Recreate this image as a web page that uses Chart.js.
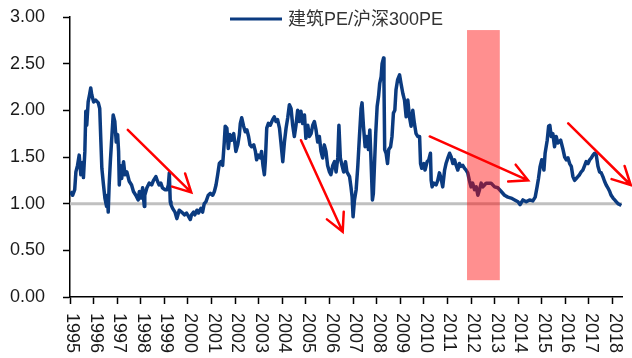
<!DOCTYPE html>
<html>
<head>
<meta charset="utf-8">
<script src="https://cdn.jsdelivr.net/npm/chart.js@4.4.1/dist/chart.umd.min.js"></script>
<style>
  html, body { margin: 0; padding: 0; background: #fff; }
  #wrap { width: 632px; height: 358px; }
</style>
</head>
<body>
<div id="wrap"><canvas id="peChart"></canvas></div>
<script>
// 建筑PE / 沪深300PE, weekly, decimal year on x
const years = [
  1995.01, 1995.11, 1995.20, 1995.25, 1995.32, 1995.39, 1995.46, 1995.53, 1995.57, 1995.63,
  1995.67, 1995.71, 1995.77, 1995.83, 1995.88, 1995.92, 1996.00, 1996.09, 1996.20, 1996.26,
  1996.31, 1996.35, 1996.42, 1996.48, 1996.55, 1996.59, 1996.62, 1996.66, 1996.71, 1996.76,
  1996.83, 1996.90, 1996.96, 1997.02, 1997.06, 1997.09, 1997.13, 1997.19, 1997.27, 1997.33,
  1997.41, 1997.51, 1997.61, 1997.69, 1997.79, 1997.89, 1997.94, 1998.00, 1998.08, 1998.15,
  1998.17, 1998.26, 1998.36, 1998.46, 1998.54, 1998.64, 1998.71, 1998.78, 1998.85, 1998.92,
  1999.02, 1999.11, 1999.17, 1999.21, 1999.25, 1999.28, 1999.35, 1999.45, 1999.53, 1999.63,
  1999.73, 1999.85, 1999.94, 2000.03, 2000.10, 2000.15, 2000.24, 2000.29, 2000.38, 2000.45,
  2000.55, 2000.62, 2000.69, 2000.76, 2000.86, 2000.95, 2001.05, 2001.12, 2001.19, 2001.26,
  2001.33, 2001.40, 2001.47, 2001.54, 2001.58, 2001.65, 2001.71, 2001.78, 2001.85, 2001.94,
  2002.03, 2002.11, 2002.18, 2002.22, 2002.28, 2002.36, 2002.43, 2002.50, 2002.57, 2002.63,
  2002.70, 2002.79, 2002.86, 2002.91, 2002.98, 2003.07, 2003.12, 2003.18, 2003.24, 2003.28,
  2003.34, 2003.41, 2003.49, 2003.59, 2003.66, 2003.73, 2003.80, 2003.88, 2003.94, 2004.02,
  2004.09, 2004.16, 2004.23, 2004.30, 2004.37, 2004.44, 2004.51, 2004.58, 2004.65, 2004.72,
  2004.79, 2004.86, 2004.94, 2005.00, 2005.08, 2005.15, 2005.22, 2005.29, 2005.36, 2005.43,
  2005.50, 2005.57, 2005.64, 2005.71, 2005.78, 2005.85, 2005.92, 2006.00, 2006.06, 2006.14,
  2006.21, 2006.28, 2006.35, 2006.40, 2006.46, 2006.53, 2006.60, 2006.68, 2006.74, 2006.85,
  2006.91, 2006.96, 2007.00, 2007.06, 2007.13, 2007.20, 2007.27, 2007.34, 2007.38, 2007.44,
  2007.51, 2007.58, 2007.65, 2007.71, 2007.76, 2007.82, 2007.86, 2007.91, 2007.96, 2008.02,
  2008.08, 2008.13, 2008.19, 2008.23, 2008.29, 2008.31, 2008.34, 2008.40, 2008.46, 2008.51,
  2008.59, 2008.65, 2008.71, 2008.77, 2008.82, 2008.89, 2008.97, 2009.03, 2009.11, 2009.18,
  2009.25, 2009.32, 2009.39, 2009.46, 2009.53, 2009.60, 2009.67, 2009.74, 2009.82, 2009.86,
  2009.91, 2010.00, 2010.05, 2010.14, 2010.21, 2010.28, 2010.31, 2010.35, 2010.42, 2010.52,
  2010.59, 2010.66, 2010.73, 2010.80, 2010.88, 2010.94, 2011.02, 2011.09, 2011.16, 2011.23,
  2011.30, 2011.37, 2011.44, 2011.51, 2011.58, 2011.65, 2011.72, 2011.79, 2011.86, 2011.93,
  2012.00, 2012.07, 2012.15, 2012.22, 2012.29, 2012.36, 2012.43, 2012.50, 2012.57, 2012.64,
  2012.74, 2012.85, 2013.00, 2013.14, 2013.28, 2013.42, 2013.56, 2013.70, 2013.85, 2013.99,
  2014.08, 2014.20, 2014.34, 2014.48, 2014.62, 2014.72, 2014.80, 2014.86, 2014.93, 2015.00,
  2015.09, 2015.14, 2015.23, 2015.29, 2015.34, 2015.40, 2015.47, 2015.54, 2015.61, 2015.68,
  2015.80, 2015.90, 2015.97, 2016.04, 2016.11, 2016.18, 2016.25, 2016.32, 2016.39, 2016.46,
  2016.53, 2016.60, 2016.67, 2016.74, 2016.82, 2016.88, 2016.96, 2017.03, 2017.10, 2017.17,
  2017.24, 2017.31, 2017.38, 2017.45, 2017.52, 2017.59, 2017.66, 2017.73, 2017.80, 2017.88,
  2017.94, 2018.02, 2018.09, 2018.16, 2018.23, 2018.30, 2018.37
];

const ratio = [
  1.13, 1.09, 1.15, 1.34, 1.41, 1.52, 1.31, 1.44, 1.28, 1.56,
  1.99, 1.84, 2.09, 2.17, 2.24, 2.17, 2.09, 2.11, 2.08, 2.02,
  1.66, 1.38, 1.20, 1.06, 0.97, 1.09, 0.91, 1.20, 1.45, 1.66,
  1.95, 1.88, 1.66, 1.74, 1.56, 1.20, 1.41, 1.27, 1.45, 1.31,
  1.34, 1.24, 1.20, 1.13, 1.09, 1.04, 1.13, 1.06, 1.17, 0.97,
  1.09, 1.17, 1.22, 1.20, 1.25, 1.29, 1.24, 1.20, 1.22, 1.17,
  1.15, 1.15, 1.20, 1.33, 1.02, 0.99, 0.95, 0.91, 0.84, 0.93,
  0.91, 0.88, 0.90, 0.86, 0.83, 0.88, 0.91, 0.88, 0.93, 0.90,
  0.95, 0.91, 1.00, 1.02, 1.09, 1.11, 1.09, 1.13, 1.20, 1.31,
  1.43, 1.45, 1.41, 1.66, 1.83, 1.81, 1.59, 1.74, 1.68, 1.75,
  1.56, 1.63, 1.74, 1.86, 1.92, 1.83, 1.77, 1.79, 1.72, 1.63,
  1.61, 1.63, 1.56, 1.47, 1.52, 1.49, 1.56, 1.41, 1.31, 1.45,
  1.81, 1.86, 1.84, 1.90, 1.93, 1.88, 1.90, 1.81, 1.66, 1.45,
  1.66, 1.81, 1.92, 2.06, 2.02, 1.84, 1.72, 1.84, 2.00, 1.88,
  1.99, 1.86, 1.95, 1.70, 1.84, 1.72, 1.75, 1.84, 1.88, 1.79,
  1.66, 1.72, 1.56, 1.49, 1.63, 1.56, 1.41, 1.34, 1.31, 1.41,
  1.45, 1.34, 1.49, 1.84, 1.49, 1.41, 1.34, 1.45, 1.34, 1.29,
  1.18, 1.07, 0.86, 1.04, 1.15, 1.40, 1.72, 2.02, 2.08, 1.83,
  1.61, 1.72, 1.58, 1.79, 1.47, 1.04, 1.11, 1.43, 1.75, 2.04,
  2.15, 2.29, 2.36, 2.50, 2.56, 2.29, 1.58, 1.54, 1.43, 1.58,
  1.61, 1.72, 1.97, 2.00, 2.22, 2.33, 2.38, 2.29, 2.18, 2.11,
  1.93, 2.11, 1.93, 1.83, 2.00, 1.86, 1.75, 1.72, 1.72, 1.43,
  1.38, 1.43, 1.36, 1.45, 1.47, 1.54, 1.25, 1.18, 1.22, 1.20,
  1.25, 1.33, 1.27, 1.18, 1.36, 1.43, 1.49, 1.54, 1.50, 1.43,
  1.47, 1.41, 1.36, 1.43, 1.40, 1.41, 1.38, 1.36, 1.33, 1.25,
  1.18, 1.22, 1.15, 1.18, 1.09, 1.15, 1.22, 1.18, 1.20, 1.22,
  1.22, 1.22, 1.18, 1.17, 1.13, 1.09, 1.07, 1.06, 1.04, 1.02,
  0.99, 1.04, 1.02, 1.04, 1.03, 1.07, 1.18, 1.27, 1.40, 1.47,
  1.36, 1.54, 1.68, 1.83, 1.84, 1.72, 1.75, 1.61, 1.72, 1.65,
  1.68, 1.58, 1.50, 1.47, 1.49, 1.43, 1.40, 1.29, 1.25, 1.27,
  1.29, 1.31, 1.34, 1.36, 1.41, 1.45, 1.43, 1.47, 1.49, 1.52,
  1.54, 1.52, 1.40, 1.34, 1.33, 1.29, 1.24, 1.20, 1.17, 1.13,
  1.09, 1.06, 1.04, 1.02, 1.00, 0.99, 0.98
];

const yearTicks = [
  1995, 1996, 1997, 1998, 1999, 2000, 2001, 2002, 2003, 2004, 2005, 2006,
  2007, 2008, 2009, 2010, 2011, 2012, 2013, 2014, 2015, 2016, 2017, 2018
];

const baseLevel = 1.0;
// shaded period (years) and its vertical extent
const shadeYears = [2011.83, 2013.22];
const shadeRange = [0.18, 2.86];
// trend arrows: [fromYear, fromValue, toYear, toValue]
const arrows = [
  [1997.45, 1.79, 2000.14, 1.12],
  [2004.79, 1.68, 2006.56, 0.70],
  [2010.25, 1.72, 2014.42, 1.25],
  [2016.12, 1.86, 2018.77, 1.20]
];

const LINE_COLOR = '#0b3b80';
const FONT = '"Liberation Sans", Arial, "Noto Sans CJK SC", sans-serif';

const extras = {
  id: 'extras',
  beforeDatasetsDraw(chart) {
    const { ctx, chartArea, scales: { y } } = chart;
    const py = y.getPixelForValue(baseLevel);
    ctx.save();
    ctx.strokeStyle = '#c0c0c0';
    ctx.lineWidth = 3;
    ctx.beginPath();
    ctx.moveTo(chartArea.left, py);
    ctx.lineTo(chartArea.right, py);
    ctx.stroke();
    ctx.restore();
  },
  afterDatasetsDraw(chart) {
    const { ctx, scales: { x, y } } = chart;
    ctx.save();
    // shaded box sits on top of the line
    const x0 = x.getPixelForValue(shadeYears[0]);
    const x1 = x.getPixelForValue(shadeYears[1]);
    const y0 = y.getPixelForValue(shadeRange[1]);
    const y1 = y.getPixelForValue(shadeRange[0]);
    ctx.fillStyle = 'rgba(255, 0, 0, 0.44)';
    ctx.fillRect(x0, y0, x1 - x0, y1 - y0);

    ctx.strokeStyle = '#ff0000';
    ctx.lineWidth = 2.5;
    ctx.lineCap = 'round';
    arrows.forEach(([ax, ay, bx, by]) => {
      const sx = x.getPixelForValue(ax), sy = y.getPixelForValue(ay);
      const ex = x.getPixelForValue(bx), ey = y.getPixelForValue(by);
      const ang = Math.atan2(ey - sy, ex - sx);
      const head = 20, spread = 0.48;
      ctx.beginPath();
      ctx.moveTo(sx, sy);
      ctx.lineTo(ex, ey);
      ctx.moveTo(ex - head * Math.cos(ang - spread), ey - head * Math.sin(ang - spread));
      ctx.lineTo(ex, ey);
      ctx.lineTo(ex - head * Math.cos(ang + spread), ey - head * Math.sin(ang + spread));
      ctx.stroke();
    });
    ctx.restore();
  },
  afterDraw(chart) {
    const { ctx, chartArea, scales: { x } } = chart;
    ctx.save();
    // year labels, turned to read downwards
    ctx.fillStyle = '#1a1a1a';
    ctx.font = '18px ' + FONT;
    ctx.textAlign = 'left';
    ctx.textBaseline = 'middle';
    yearTicks.forEach(yr => {
      ctx.save();
      ctx.translate(x.getPixelForValue(yr) + 2, chartArea.bottom + 16);
      ctx.rotate(Math.PI / 2);
      ctx.fillText(String(yr), 0, 0);
      ctx.restore();
    });

    // legend inside the plot, top
    const ds = chart.data.datasets[0];
    ctx.strokeStyle = ds.borderColor;
    ctx.lineWidth = 3;
    ctx.beginPath();
    ctx.moveTo(230, 19);
    ctx.lineTo(282, 19);
    ctx.stroke();
    ctx.fillStyle = '#333';
    ctx.font = '18px ' + FONT;
    ctx.fillText(ds.label, 288, 20);
    ctx.restore();
  }
};

new Chart(document.getElementById('peChart'), {
  type: 'line',
  data: {
    datasets: [{
      label: '建筑PE/沪深300PE',
      data: years.map((yr, i) => ({ x: yr, y: ratio[i] })),
      borderColor: LINE_COLOR,
      borderWidth: 3.5,
      borderJoinStyle: 'round',
      pointRadius: 0,
      tension: 0,
      fill: false
    }]
  },
  options: {
    responsive: true,
    maintainAspectRatio: false,
    animation: false,
    layout: { padding: { top: 17, right: 10, left: 0, bottom: 0 } },
    plugins: {
      legend: { display: false },
      tooltip: { enabled: false }
    },
    scales: {
      x: {
        type: 'linear',
        min: 1995,
        max: 2018.4,
        afterBuildTicks: s => { s.ticks = yearTicks.map(v => ({ value: v })); },
        afterFit: s => { s.height = 61; },
        ticks: { display: false },
        grid: { drawOnChartArea: false, drawTicks: true, tickLength: 7, color: '#000', tickWidth: 1.5 },
        border: { color: '#000', width: 1.5 }
      },
      y: {
        min: 0,
        max: 3,
        afterFit: s => { s.width = 70; s.paddingTop = 0; s.paddingBottom = 0; },
        ticks: {
          stepSize: 0.5,
          padding: 18,
          color: '#1a1a1a',
          font: { family: FONT, size: 18 },
          callback: v => Number(v).toFixed(2)
        },
        grid: { drawOnChartArea: false, drawTicks: true, tickLength: 7, color: '#000', tickWidth: 1.5 },
        border: { color: '#000', width: 1.5 }
      }
    }
  },
  plugins: [extras]
});
</script>
</body>
</html>
